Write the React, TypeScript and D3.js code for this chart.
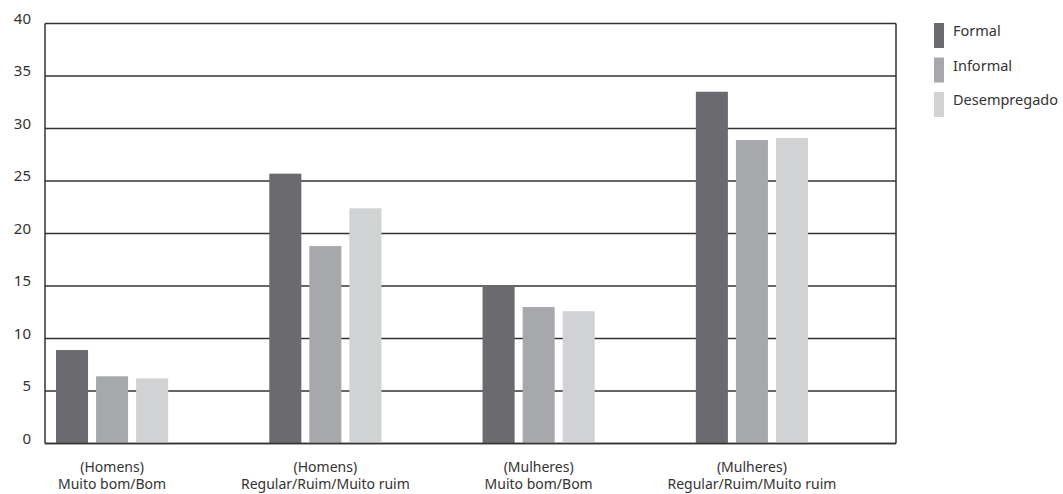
import React from "react";
import * as d3 from "d3";

const categories = [
  ["(Homens)", "Muito bom/Bom"],
  ["(Homens)", "Regular/Ruim/Muito ruim"],
  ["(Mulheres)", "Muito bom/Bom"],
  ["(Mulheres)", "Regular/Ruim/Muito ruim"],
];
const seriesNames = ["Formal", "Informal", "Desempregado"];
const formal = [8.9, 25.7, 15.0, 33.5];
const informal = [6.4, 18.8, 13.0, 28.9];
const desempregado = [6.2, 22.4, 12.6, 29.1];
const yTicks = [0, 5, 10, 15, 20, 25, 30, 35, 40];
const colors = ["#6b6b6f", "#a7a8ab", "#d1d2d4"];

const seriesValues = [formal, informal, desempregado];
const font = "'Noto Sans', sans-serif";

export default function App() {
  const W = 1063, H = 494;
  const left = 45, right = 896, top = 23.5, bottom = 443.5;
  const y = d3.scaleLinear().domain([0, 40]).range([bottom, top]);
  const catKeys = categories.map((_, i) => String(i));
  const x0 = d3.scaleBand().domain(catKeys).range([56, 808]).paddingInner(101 / 213).paddingOuter(0);
  const x1 = d3.scaleBand().domain(seriesNames).range([0, x0.bandwidth()]).paddingInner(0.2).paddingOuter(0);

  return (
    <svg width={W} height={H} style={{ position: "absolute", left: 0, top: 0, background: "#fff" }}>
      {yTicks.map((t) => (
        <g key={t}>
          <line x1={left} x2={right} y1={y(t)} y2={y(t)} stroke="#333" strokeWidth={1.5} />
          <text x={31} y={y(t)} textAnchor="end" fontFamily={font} fontSize={15} fill="#333">{t}</text>
        </g>
      ))}
      {categories.map((c, i) => (
        <g key={i}>
          {seriesNames.map((s, j) => {
            const v = seriesValues[j][i];
            return (
              <rect key={s} x={(x0(String(i)) as number) + (x1(s) as number)} y={y(v)}
                width={x1.bandwidth()} height={y(0) - y(v)} fill={colors[j]} />
            );
          })}
        </g>
      ))}
      <line x1={left} x2={left} y1={top} y2={bottom} stroke="#333" strokeWidth={1.5} />
      <line x1={right} x2={right} y1={top} y2={bottom} stroke="#333" strokeWidth={1.5} />
      <line x1={left} x2={right} y1={bottom} y2={bottom} stroke="#333" strokeWidth={1.5} />
      {categories.map((c, i) => {
        const cx = (x0(String(i)) as number) + x0.bandwidth() / 2;
        return (
          <text key={i} x={cx} textAnchor="middle" fontFamily={font} fontSize={14} fill="#333">
            <tspan x={cx} y={472}>{c[0]}</tspan>
            <tspan x={cx} y={489}>{c[1]}</tspan>
          </text>
        );
      })}
      {seriesNames.map((s, j) => (
        <g key={s}>
          <rect x={934} y={23 + j * 34.5} width={10} height={25} fill={colors[j]} />
          <text x={953} y={36 + j * 34.5} fontFamily={font} fontSize={14.5} fill="#333">{s}</text>
        </g>
      ))}
    </svg>
  );
}
